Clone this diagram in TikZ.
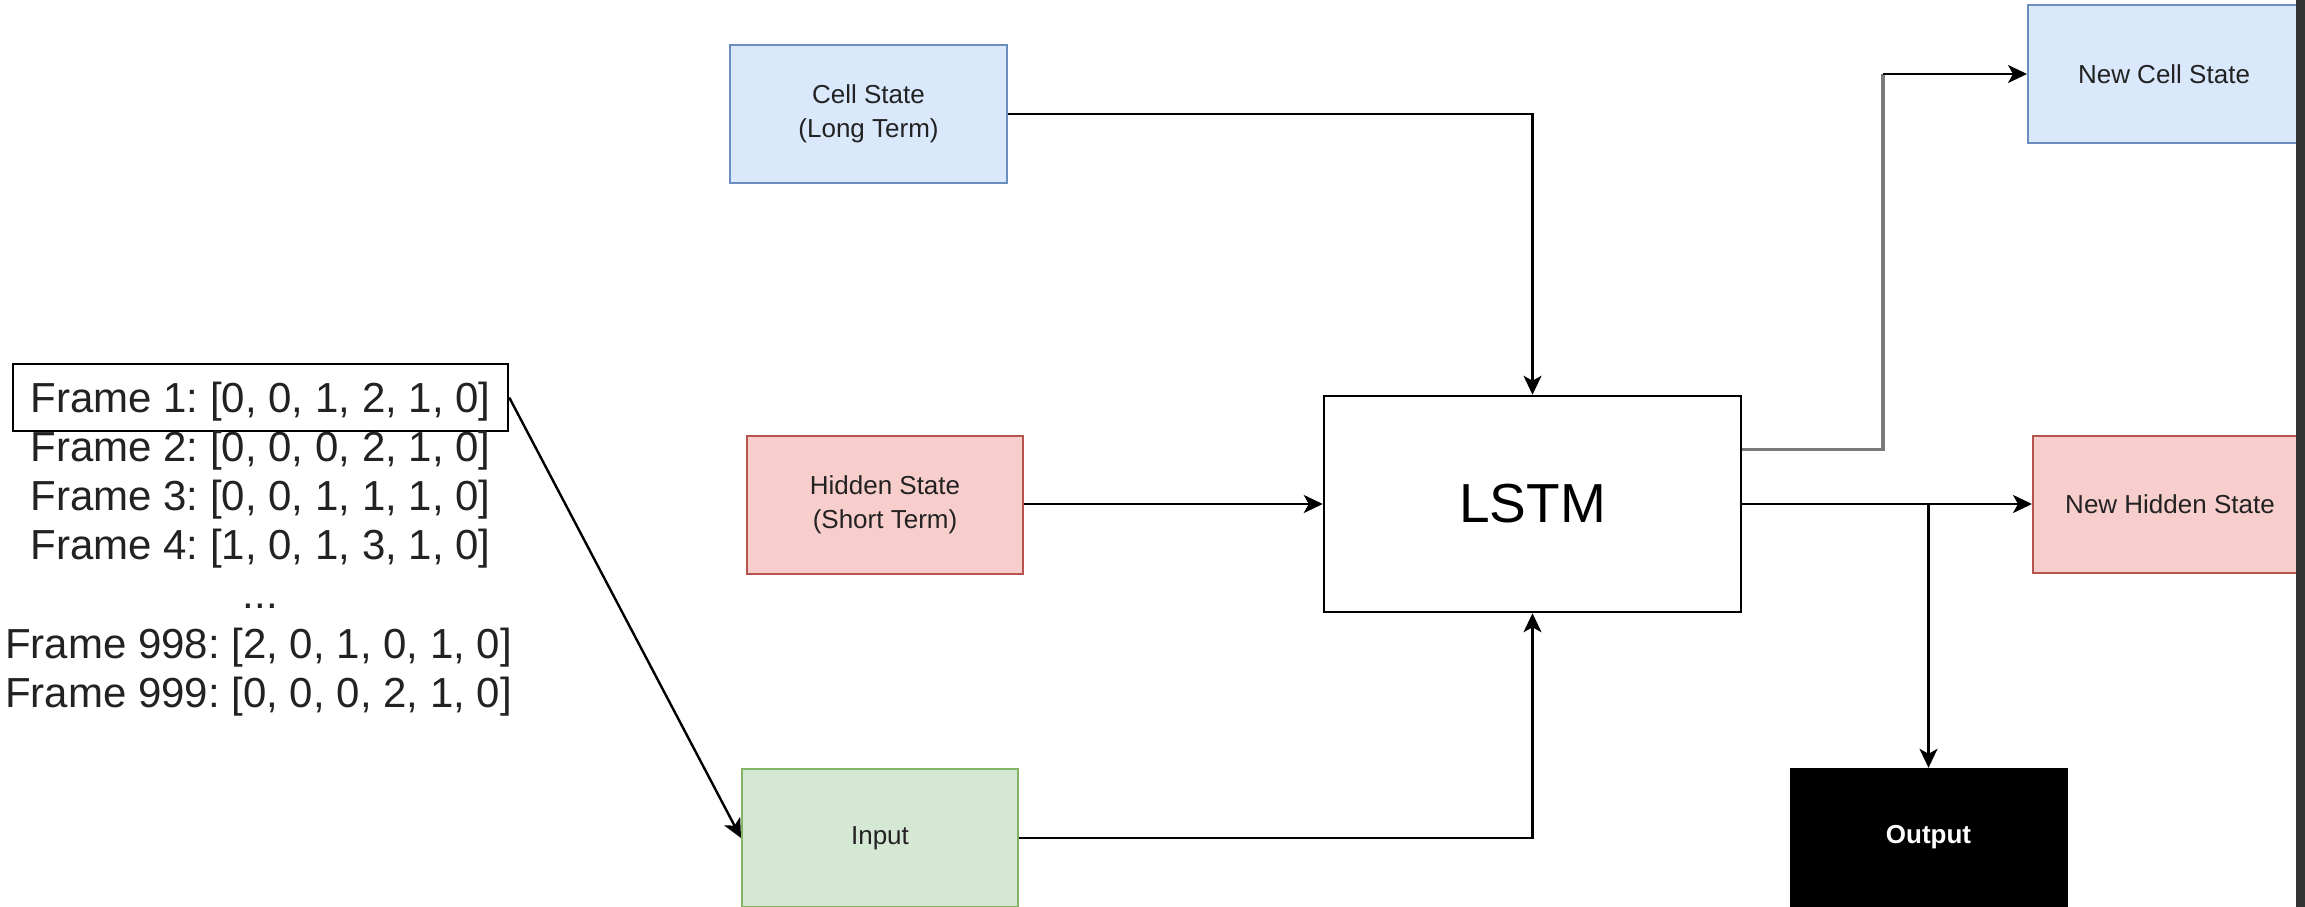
\documentclass[tikz,border=0pt]{standalone}
\usepackage{fontspec}
\setmainfont{Liberation Sans}
\usetikzlibrary{arrows.meta,calc}
\frenchspacing

\definecolor{blueFill}{HTML}{DAE8FC}
\definecolor{blueLine}{HTML}{6C8EBF}
\definecolor{redFill}{HTML}{F8CECC}
\definecolor{redLine}{HTML}{B85450}
\definecolor{greenFill}{HTML}{D5E8D4}
\definecolor{greenLine}{HTML}{82B366}
\definecolor{textGray}{HTML}{222222}
\definecolor{wireGray}{HTML}{7A7A7A}
\definecolor{sideBar}{HTML}{333333}

\tikzset{
  statebox/.style={rectangle, inner sep=0pt, line width=2pt, align=center,
    text=textGray, font=\fontsize{26}{34}\selectfont},
  framebox/.style={rectangle, inner sep=0pt, text=textGray,
    font=\fontsize{42}{49}\selectfont},
  frameline/.style={anchor=base, inner sep=0pt, text=textGray,
    font=\fontsize{42}{49}\selectfont},
  conn/.style={line width=2.4pt, draw=black,
    -{Stealth[length=19pt,width=18pt,inset=5pt]}},
  graywire/.style={line width=3.2pt, draw=wireGray},
}

\begin{document}
\begin{tikzpicture}[x=1pt,y=-1pt]
  \useasboundingbox (0,0) rectangle (2305,907);

  % input sequence of frames
  \node[framebox, draw=black, line width=2.5pt, minimum width=495pt,
        minimum height=67pt, text height=30pt, text depth=0pt]
        (frame1) at (260.5,397.5) {Frame 1: [0, 0, 1, 2, 1, 0]};
  \node[frameline] (frame2) at (260.5,461) {Frame 2: [0, 0, 0, 2, 1, 0]};
  \node[frameline] (frame3) at (260.5,510) {Frame 3: [0, 0, 1, 1, 1, 0]};
  \node[frameline] (frame4) at (260.5,559) {Frame 4: [1, 0, 1, 3, 1, 0]};
  \node[frameline] (dots)   at (260.5,608) {...};
  \node[frameline] (frame998) at (258.5,658) {Frame 998: [2, 0, 1, 0, 1, 0]};
  \node[frameline] (frame999) at (258.5,707) {Frame 999: [0, 0, 0, 2, 1, 0]};

  % LSTM inputs
  \node[statebox, fill=blueFill, draw=blueLine, minimum width=277pt,
        minimum height=138pt] (cell) at (868.5,114) {Cell State\\(Long Term)};
  \node[statebox, fill=redFill, draw=redLine, minimum width=276pt,
        minimum height=138pt] (hidden) at (885,505) {Hidden State\\(Short Term)};
  \node[statebox, fill=greenFill, draw=greenLine, minimum width=276pt,
        minimum height=138pt] (input) at (880,838) {Input};

  % the cell itself
  \node[rectangle, draw=black, line width=2.5pt, inner sep=0pt,
        minimum width=417pt, minimum height=216pt,
        font=\fontsize{55}{60}\selectfont] (lstm) at (1532.5,504) {LSTM};

  % LSTM outputs
  \node[statebox, fill=blueFill, draw=blueLine, minimum width=272pt,
        minimum height=138pt] (newcell) at (2164,74) {New Cell State};
  \node[statebox, fill=redFill, draw=redLine, minimum width=274pt,
        minimum height=137pt] (newhidden) at (2170,504.5) {New Hidden State};
  \node[rectangle, fill=black, draw=black, inner sep=0pt, minimum width=277pt,
        minimum height=138pt, text=white,
        font=\fontsize{26}{34}\selectfont\bfseries] (output) at (1928.5,837) {Output};

  % connectors into the cell
  \draw[conn] (frame1.east) -- (input.west);
  \draw[conn] (cell.east) -| (lstm.north);
  \draw[conn] (hidden.east |- lstm.west) -- (lstm.west);
  \draw[conn] (input.east) -| (lstm.south);

  % connectors out of the cell
  \coordinate (cellout) at ($(lstm.north east)!0.25!(lstm.south east)$);
  \coordinate (bend) at (1883,0 |- newcell.west);
  \draw[graywire] (cellout) -| (bend);
  \draw[conn] (bend) -- (newcell.west);
  \draw[conn] (lstm.east) -- (lstm.east -| newhidden.west);
  \coordinate (split) at (lstm.east -| output.north);
  \draw[conn] (split) -- (output.north);

  % dark strip along the right edge
  \fill[sideBar] (2296,0) rectangle (2305,907);
\end{tikzpicture}
\end{document}
